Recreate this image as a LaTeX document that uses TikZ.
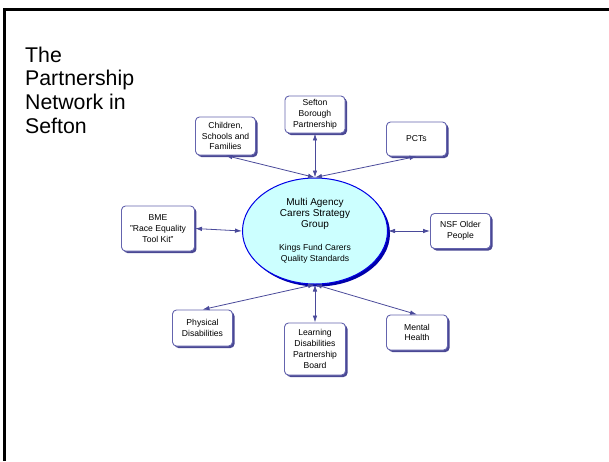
\documentclass[tikz,border=0pt]{standalone}
\usepackage{fontspec}
\setmainfont{Liberation Sans}
\usetikzlibrary{shapes.geometric, shadows, arrows.meta}

\definecolor{boxline}{HTML}{6464AE}
\definecolor{boxshadow}{HTML}{4A4894}
\definecolor{linkblue}{HTML}{4A4A9A}
\definecolor{hubfill}{HTML}{CCFFFF}
\definecolor{hubline}{HTML}{0000E6}
\definecolor{hubshadow}{HTML}{0000AA}

\begin{document}
\begin{tikzpicture}[
        x=1pt, y=1pt,
        node distance=100pt,
        block/.style={rectangle, draw=boxline, line width=0.9pt, fill=white, rounded corners=4pt, align=center, minimum width=60pt, minimum height=35pt, inner sep=1pt, font=\fontsize{8.6}{10.8}\selectfont, drop shadow={shadow xshift=2pt, shadow yshift=-2pt, fill=boxshadow, opacity=1}},
        hub/.style={ellipse, draw=hubline, line width=1pt, fill=hubfill, align=center, minimum width=145pt, minimum height=106pt, inner sep=0pt, font=\fontsize{10}{11}\selectfont, drop shadow={shadow xshift=2.5pt, shadow yshift=-2.5pt, fill=hubshadow, opacity=1}},
        link/.style={{Latex[length=7pt,width=4.5pt]}-{Latex[length=7pt,width=4.5pt]}, draw=linkblue, line width=0.8pt}
    ]

        \useasboundingbox (-315,-230) rectangle (294,231);
        \draw[line width=3pt] (294,221) -- (-310,221) -- (-310,-230);

        \node (title) [anchor=north west, inner sep=0pt, align=left, font=\fontsize{21.3}{23.7}\selectfont] at (-290,184.5) {The\\Partnership\\Network in\\Sefton};

        \node (carers) [hub] {Multi Agency\\Carers Strategy\\Group\\[12pt]{\fontsize{8.6}{11}\selectfont Kings Fund Carers}\\{\fontsize{8.6}{11}\selectfont Quality Standards}};
        \node (sefton) [block, above of=carers, yshift=16.5pt, minimum height=37pt] {Sefton\\Borough\\Partnership};
        \node (children) [block, above of=carers, xshift=-89.5pt, yshift=-5pt, minimum height=38pt] {Children,\\Schools and\\Families};
        \node (pcts) [block, above of=carers, xshift=101.5pt, yshift=-8pt, minimum height=34pt] {PCTs};
        \node (bme) [block, left of=carers, xshift=-57pt, yshift=2.5pt, minimum width=73pt, minimum height=45pt] {BME\\"Race Equality\\Tool Kit"};
        \node (nsf) [block, right of=carers, xshift=45.5pt] {NSF Older\\People};
        \node (physical) [block, below of=carers, xshift=-112.5pt, yshift=3pt, minimum height=36pt] {Physical\\Disabilities};
        \node (learning) [block, below of=carers, yshift=-18pt, minimum width=61pt, minimum height=52pt] {Learning\\Disabilities\\Partnership\\Board};
        \node (mental) [block, below of=carers, xshift=102pt, yshift=-1.5pt, minimum width=61pt] {Mental\\Health};

        \draw[link] (children.south) -- (carers.north);
        \draw[link] (sefton.south) -- (carers.north);
        \draw[link] (pcts.south) -- (carers.north);
        \draw[link] (bme.east) -- (carers.west);
        \draw[link] (nsf.west) -- (carers.east);
        \draw[link] (physical.north) -- (carers.south);
        \draw[link] (learning.north) -- (carers.south);
        \draw[link] (mental.north) -- (carers.south);

    \end{tikzpicture}
\end{document}
